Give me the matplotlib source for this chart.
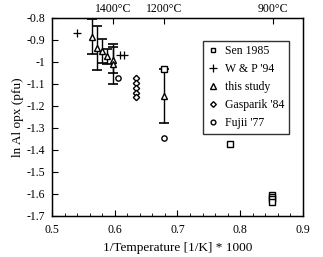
import matplotlib
matplotlib.use("Agg")
import matplotlib.pyplot as plt
import numpy as np

plt.rcParams["font.family"] = ["Liberation Serif", "DejaVu Serif"]

# Sen 1985
sen_x = [0.678, 0.784, 0.851, 0.851, 0.851, 0.851]
sen_y = [-1.03, -1.373, -1.605, -1.615, -1.625, -1.635]
# W & P '94
wp_x = [0.540, 0.609, 0.615]
wp_y = [-0.868, -0.968, -0.968]
# this study (with error bars)
ts_x = [0.563, 0.572, 0.580, 0.588, 0.597, 0.598, 0.678]
ts_y = [-0.885, -0.935, -0.950, -0.975, -0.990, -1.010, -1.155]
ts_err = [0.08, 0.10, 0.055, 0.035, 0.06, 0.09, 0.123]
# Gasparik '84
gas_x = [0.634, 0.634, 0.634, 0.634, 0.634]
gas_y = [-1.075, -1.095, -1.117, -1.14, -1.16]
# Fujii '77
fu_x = [0.605, 0.678]
fu_y = [-1.075, -1.345]

temps_c = [1400, 1200, 900]
temp_labels = ["1400°C", "1200°C", "900°C"]

fig = plt.figure(figsize=(3.23, 2.57), dpi=100)
ax = fig.add_axes([0.161, 0.16, 0.777, 0.77])

ms = 3.8
ax.errorbar(ts_x, ts_y, yerr=ts_err, fmt="none", ecolor="black",
            elinewidth=1.0, capsize=3.5, capthick=1.2, zorder=2)
ax.plot(sen_x, sen_y, "s", ms=ms, mfc="white", mec="black", mew=1.0,
        label="Sen 1985", zorder=3)
ax.plot(wp_x, wp_y, "+", ms=6, color="black", mew=0.9,
        label="W & P '94", zorder=3)
ax.plot(ts_x, ts_y, "^", ms=ms + 0.5, mfc="white", mec="black", mew=1.0,
        label="this study", zorder=4)
ax.plot(gas_x, gas_y, "D", ms=ms - 0.6, mfc="white", mec="black", mew=1.0,
        label="Gasparik '84", zorder=3)
ax.plot(fu_x, fu_y, "o", ms=ms, mfc="white", mec="black", mew=1.0,
        label="Fujii '77", zorder=3)

ax.set_xlim(0.5, 0.9)
ax.set_ylim(-1.7, -0.8)
ax.set_xticks([0.5, 0.6, 0.7, 0.8, 0.9])
ax.set_xticklabels(["0.5", "0.6", "0.7", "0.8", "0.9"])
ax.set_xticks(np.arange(0.5, 0.901, 0.02), minor=True)
yt = np.round(np.arange(-1.7, -0.79, 0.1), 1)
ax.set_yticks(yt)
ax.set_yticklabels([f"{v:g}" for v in yt])
ax.tick_params(axis="both", which="both", direction="in", labelsize=8.5)
ax.tick_params(axis="x", which="major", length=4, pad=6)
ax.tick_params(axis="x", which="minor", length=2.5)
ax.tick_params(axis="y", which="major", length=4, pad=5)
for s in ax.spines.values():
    s.set_linewidth(1.0)

ax.set_xlabel("1/Temperature [1/K] * 1000", fontsize=9.5, labelpad=4)
ax.set_ylabel("ln Al opx (pfu)", fontsize=9.5, labelpad=2)

top = ax.twiny()
top.set_xlim(ax.get_xlim())
top.set_xticks([1000.0 / (t + 273.15) for t in temps_c])
top.set_xticklabels(temp_labels)
top.tick_params(axis="x", direction="in", length=4, labelsize=8.5, pad=2)

leg = ax.legend(loc="upper right", bbox_to_anchor=(0.945, 0.885), fontsize=8.5,
                frameon=True, fancybox=False, edgecolor="black",
                handlelength=1.0, handletextpad=0.5, borderpad=0.4,
                labelspacing=0.5, borderaxespad=0.0, markerscale=0.9)
leg.get_frame().set_linewidth(1.0)

fig.savefig("out.png", dpi=100)
